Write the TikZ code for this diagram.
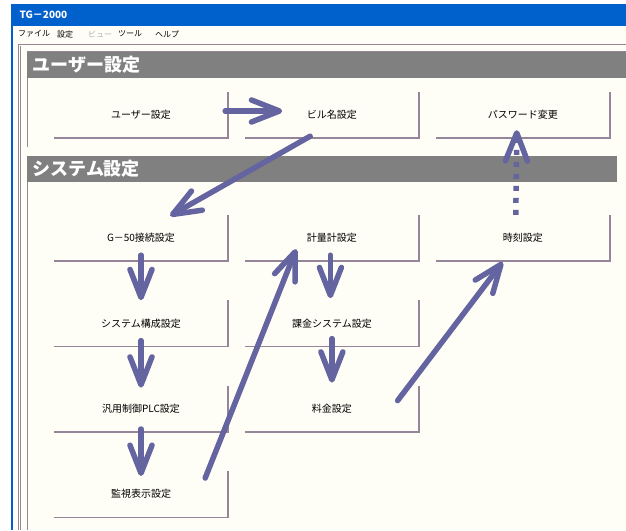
\documentclass[tikz,border=0pt]{standalone}
\usepackage{fontspec}
\newfontfamily\jp{Noto Sans CJK JP}
\usetikzlibrary{positioning,arrows.meta}
\definecolor{winblue}{RGB}{0,96,204}
\definecolor{paper}{RGB}{255,254,246}
\definecolor{framec}{RGB}{150,132,152}
\definecolor{hdrgray}{RGB}{128,128,128}
\definecolor{arrowc}{RGB}{100,100,160}

\begin{document}
\begin{tikzpicture}[x=1pt, y=-1pt, node distance=39pt and 16.5pt,
                    font=\jp\fontsize{10}{12}\selectfont]
    \tikzset{
        btn/.style      =   { minimum width=174pt
                            , minimum height=46pt
                            , inner sep=0pt
                            , text centered
        }
        , frame/.style  =   { draw=framec
                            , line width=1.6pt
        }
        , hdr/.style    =   { anchor=west
                            , text=white
                            , font=\jp\bfseries\fontsize{18}{20}\selectfont
        }
        , menu/.style   =   { anchor=west
                            , inner sep=0pt
                            , font=\jp\fontsize{8}{10}\selectfont
        }
        , arrow/.style  =   { draw=arrowc
                            , line width=5.5pt
                            , line cap=round
                            , -{Straight Barb[length=28pt, width=22pt, round]}
        }
        , dotarrow/.style = { arrow
                            , line cap=butt
                            , dash pattern=on 5pt off 7pt
        }
    }
    \useasboundingbox (0,0) rectangle (626,530);
    % window
    \fill[white] (0,0) rectangle (626,530);
    \fill[paper] (13,26) rectangle (626,530);
    \fill[winblue] (11,4) rectangle (626,26);
    \fill[winblue] (11,4) rectangle (13,530);
    \node(title)[anchor=west, text=white, font=\jp\bfseries\fontsize{10}{12}\selectfont] at (16,15) {TG－2000};
    \node(m1)[menu] at (18,34) {ファイル};
    \node(m2)[menu] at (57,34) {設定};
    \node(m3)[menu, text=black!30] at (88,34) {ビュー};
    \node(m4)[menu] at (118,34) {ツール};
    \node(m5)[menu] at (155,34) {ヘルプ};
    \draw[framec, line width=1pt] (18,44) -- (626,44);
    \draw[framec, line width=1pt] (18,44) -- (18,530);
    \draw[framec, line width=0.8pt] (20,46) -- (20,530);
    \draw[framec, line width=0.8pt] (27,51) -- (626,51);
    \draw[framec, line width=1pt] (27,78) -- (27,147);
    \draw[framec, line width=1pt] (27,182) -- (27,530);

    % section headers
    \fill[hdrgray] (27,52) rectangle (626,78);
    \fill[hdrgray] (27,156) rectangle (617,182);
    \node(h1)[hdr] at (29,65) {ユーザー設定};
    \node(h2)[hdr] at (29,169) {システム設定};

    % buttons
    \node(usr)[btn] at (141,115)        {ユーザー設定};
    \node(bld)[btn, right=of usr]       {ビル名設定};
    \node(pwd)[btn, right=of bld]       {パスワード変更};
    \node(g50)[btn] at (141,238)        {G－50接続設定};
    \node(sys)[btn, below=of g50]       {システム構成設定};
    \node(plc)[btn, below=of sys]       {汎用制御PLC設定};
    \node(mon)[btn, below=of plc]       {監視表示設定};
    \node(mtr)[btn, right=of g50]       {計量計設定};
    \node(bil)[btn, below=of mtr]       {課金システム設定};
    \node(fee)[btn, below=of bil]       {料金設定};
    \node(clk)[btn, right=of mtr]       {時刻設定};

    \foreach \b in {usr,bld,pwd,g50,sys,plc,mon,mtr,bil,fee,clk}
        \draw[frame] (\b.north east) -- (\b.south east) -- (\b.south west);

    \draw[arrow] ([xshift=-3pt, yshift=4pt]usr.east) -- ([xshift=37.5pt, yshift=4pt]bld.west);
    \draw[arrow] ([xshift=65.5pt, yshift=2pt]bld.south west) -- ([xshift=-58pt, yshift=-1pt]g50.north east);
    \draw[arrow] ([yshift=6pt]g50.south) -- (sys.north);
    \draw[arrow] ([yshift=6pt]sys.south) -- ([yshift=-2pt]plc.north);
    \draw[arrow] ([yshift=3pt]plc.south) -- ([yshift=-5pt]mon.north);
    \draw[arrow] ([xshift=-23pt, yshift=-7pt]mon.north east) -- ([xshift=51.5pt, yshift=12pt]mtr.south west);
    \draw[arrow] ([xshift=-1.5pt, yshift=6pt]mtr.south) -- ([xshift=-1.5pt, yshift=2pt]bil.north);
    \draw[arrow] ([yshift=8pt]bil.south) -- ([yshift=3pt]fee.north);
    \draw[arrow] ([xshift=-21.5pt, yshift=-15pt]fee.north east) -- ([xshift=67pt, yshift=-1pt]clk.south west);
    \draw[dotarrow] ([xshift=-7pt]clk.north) -- ([xshift=-6pt, yshift=8pt]pwd.south);
\end{tikzpicture}
\end{document}
